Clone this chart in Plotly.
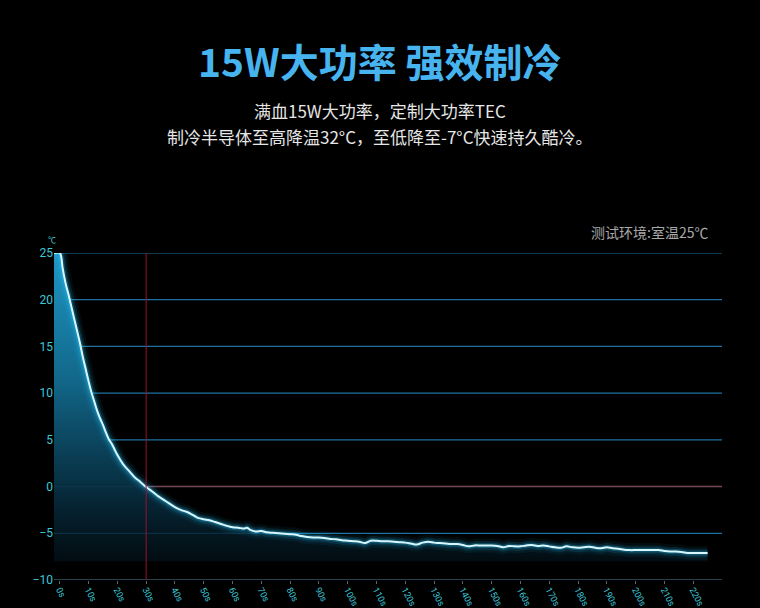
import plotly.graph_objects as go

# time (s) and temperature (°C)
t_sec = [-2, 0, 0.5, 1, 2, 3, 4, 5, 6, 7, 8, 9, 10, 11, 12, 13, 14, 15, 16, 17, 18, 19, 20,
         22, 24, 26, 28, 30, 32, 34, 36, 38, 40, 42, 44, 46, 48, 50, 52, 54, 56, 58, 60,
         62, 64, 65, 66, 68, 70, 72, 74, 76, 78, 80, 82, 84, 86, 88, 90, 92, 94, 96, 98, 100,
         102, 104, 106, 108, 110, 112, 114, 116, 118, 120, 122, 124, 126, 128, 130, 132, 134,
         136, 138, 140, 142, 144, 146, 148, 150, 152, 154, 156, 158, 160, 162, 164, 166, 168,
         170, 172, 174, 176, 178, 180, 182, 184, 186, 188, 190, 192, 194, 196, 198, 200, 202,
         204, 206, 208, 210, 212, 214, 216, 218, 220, 222, 224, 225]
temp_c = [25.0, 25.0, 24.6, 23.4, 21.8, 20.6, 19.3, 18.0, 16.7, 15.4, 13.9, 12.6, 11.3, 10.1,
          9.1, 8.1, 7.3, 6.6, 5.8, 5.1, 4.6, 4.0, 3.4,
          2.4, 1.7, 1.0, 0.5, -0.05, -0.5, -1.0, -1.4, -1.8, -2.2, -2.5, -2.7, -3.0, -3.35,
          -3.5, -3.6, -3.8, -4.0, -4.2, -4.35,
          -4.4, -4.5, -4.4, -4.6, -4.8, -4.75, -4.9, -4.95, -5.0, -5.05, -5.1, -5.15, -5.3,
          -5.4, -5.45, -5.45, -5.5, -5.6, -5.65, -5.75, -5.8,
          -5.85, -5.9, -6.05, -5.8, -5.8, -5.85, -5.85, -5.9, -5.95, -6.0, -6.1, -6.2, -6.0,
          -5.9, -6.0, -6.05, -6.1,
          -6.15, -6.15, -6.25, -6.4, -6.3, -6.3, -6.3, -6.3, -6.35, -6.5, -6.35, -6.4, -6.4,
          -6.3, -6.25, -6.35, -6.3,
          -6.4, -6.5, -6.55, -6.4, -6.5, -6.55, -6.5, -6.45, -6.55, -6.6, -6.5, -6.6, -6.65,
          -6.75, -6.8, -6.8, -6.8,
          -6.8, -6.8, -6.8, -6.9, -6.95, -6.95, -7.0, -7.1, -7.1, -7.1, -7.1, -7.1]

fill_floor = -8
x_ticks = list(range(0, 221, 10))
x_labels = [f"{v}s" for v in x_ticks]
y_ticks = [-10, -5, 0, 5, 10, 15, 20, 25]

fig = go.Figure()

# horizontal grid, drawn as shapes so the colour stays even
for yv in y_ticks:
    if yv == 0:
        col, wid = "#74485a", 1.5
    elif yv == -10:
        col, wid = "#35566a", 1.5
    else:
        col, wid = "#1f72a0", 1.2
    fig.add_shape(type="line", xref="paper", x0=0, x1=1, y0=yv, y1=yv,
                  line=dict(color=col, width=wid), layer="below")

# baseline for the gradient fill
fig.add_trace(go.Scatter(x=t_sec, y=[fill_floor] * len(t_sec), mode="lines",
                         line=dict(width=0, color="rgba(0,0,0,0)"), hoverinfo="skip"))
fig.add_trace(go.Scatter(x=t_sec, y=temp_c, mode="lines", fill="tonexty",
                         line=dict(width=0, color="rgba(0,0,0,0)"),
                         fillgradient=dict(type="vertical", start=fill_floor, stop=25,
                                           colorscale=[[0, "rgba(3,18,26,0.7)"],
                                                       [0.25, "rgba(8,50,70,0.95)"],
                                                       [0.6, "rgba(18,105,140,1)"],
                                                       [1, "rgba(30,150,195,1)"]]),
                         hoverinfo="skip"))

# glow around the line
for w, a in [(14, 0.06), (9, 0.12), (5, 0.25)]:
    fig.add_trace(go.Scatter(x=t_sec, y=temp_c, mode="lines",
                             line=dict(width=w, color=f"rgba(40,200,255,{a})", shape="spline"),
                             hoverinfo="skip"))
fig.add_trace(go.Scatter(x=t_sec, y=temp_c, mode="lines",
                         line=dict(width=2, color="#d8f8ff", shape="spline")))

# red marker at 30s
fig.add_shape(type="line", x0=30, x1=30, y0=-10, y1=25, line=dict(color="#9a1030", width=1))

note_font = "Noto Sans CJK SC"
fig.add_annotation(text="<b>15W大功率 强效制冷</b>", xref="paper", yref="paper", x=0.488, y=1.590,
                   yanchor="middle", showarrow=False,
                   font=dict(family=note_font, size=39, color="#47b4f0"))
fig.add_annotation(text="满血15W大功率，定制大功率TEC", xref="paper", yref="paper", x=0.488, y=1.437,
                   yanchor="middle", showarrow=False,
                   font=dict(family=note_font, size=17, color="#e6e6e6"))
fig.add_annotation(text="制冷半导体至高降温32°C，至低降至-7°C快速持久酷冷。", xref="paper", yref="paper",
                   x=0.488, y=1.355, yanchor="middle", showarrow=False,
                   font=dict(family=note_font, size=17, color="#e6e6e6"))
fig.add_annotation(text="测试环境:室温25℃", xref="paper", yref="paper", x=0.982, y=1.064,
                   xanchor="right", yanchor="middle", showarrow=False,
                   font=dict(family=note_font, size=14, color="#a8a8a8"))
fig.add_annotation(text="℃", xref="paper", yref="paper", x=-0.012, y=1.042,
                   yanchor="middle", showarrow=False,
                   font=dict(family=note_font, size=8, color="#3cc8d8"))

fig.update_layout(
    width=760, height=608,
    paper_bgcolor="black", plot_bgcolor="black",
    margin=dict(l=54, r=38, t=253, b=28),
    showlegend=False,
    xaxis=dict(range=[-2, 230], tickvals=x_ticks, ticktext=x_labels, tickangle=62,
               showgrid=False, zeroline=False, showline=False, automargin=False,
               ticks="outside", ticklen=3, tickcolor="#5a6a70", ticklabelstandoff=-3,
               tickfont=dict(family="Roboto", size=9, color="#3cc8d8")),
    yaxis=dict(range=[-10, 25], tickvals=y_ticks, showgrid=False, zeroline=False,
               showline=False, automargin=False,
               tickfont=dict(family="Roboto", size=12, color="#3cc8d8")),
)

fig.write_html("out.html", config={"displayModeBar": False},
               post_script="document.body.style.margin='0';")
